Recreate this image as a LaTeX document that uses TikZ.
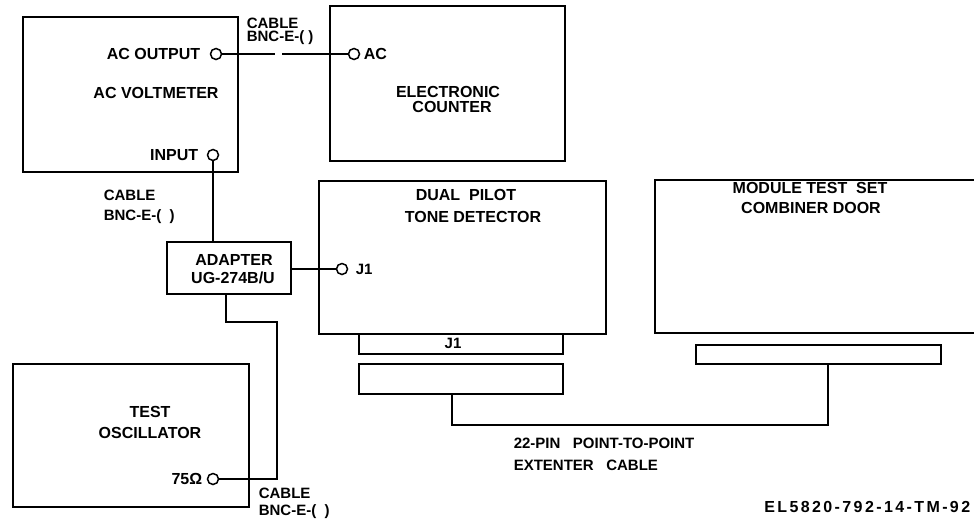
\documentclass[tikz,border=0pt]{standalone}
\usepackage{fontspec}
\setmainfont{Liberation Sans}
\begin{document}
\begin{tikzpicture}[x=1pt,y=-1pt,line width=1.6pt,
  box/.style={draw,rectangle,inner sep=0pt,anchor=north west},
  jack/.style={draw,circle,fill=white,minimum size=11pt,inner sep=0pt,line width=1.5pt},
  lbl/.style={inner sep=0pt,font=\fontsize{16}{18}\selectfont\bfseries,align=center},
  slbl/.style={inner sep=0pt,font=\fontsize{15}{17}\selectfont\bfseries,align=left}]
\useasboundingbox (0,0) rectangle (974,522);
% boxes
\node[box,minimum width=215pt,minimum height=155pt] (vm) at (22,16) {};
\node[box,minimum width=235pt,minimum height=155pt] (ec) at (329,5) {};
\node[box,minimum width=124pt,minimum height=52pt] (ad) at (166,241) {};
\node[box,minimum width=236pt,minimum height=143pt] (osc) at (12,363) {};
\node[box,minimum width=287pt,minimum height=153pt] (dp) at (318,180) {};
\node[box,minimum width=204pt,minimum height=20pt] (dpj) at (358,333) {};
\node[box,minimum width=204pt,minimum height=30pt] (plug1) at (358,363) {};
\node[box,minimum width=245pt,minimum height=19pt] (plug2) at (695,344) {};
\draw (974,180) -- (655,180) -- (655,333) -- (974,333);
% jacks
\node[jack] (acout) at (216,54) {};
\node[jack] (vin) at (213,155) {};
\node[jack] (acin) at (354,54) {};
\node[jack] (j1) at (342,269) {};
\node[jack] (o75) at (213,479) {};
% connectors
\coordinate (g1) at (275,54);
\coordinate (g2) at (282,54);
\draw (acout) -- (g1);
\draw (g2) -- (acin);
\draw (vin) -- (vin |- ad.north);
\draw (ad.east |- j1) -- (j1);
\coordinate (ab) at (226,293);
\draw (ab) -- (226,322) -- (277,322) -- (277,479) -- (o75);
\coordinate (p1) at (452,393);
\coordinate (p2) at (828,363);
\draw (p1) -- (452,425) -- (828,425) -- (p2);
% labels
\node[lbl,anchor=east] (t1) at (201,54) {AC OUTPUT};
\node[lbl] (t2) at (156,93) {AC VOLTMETER};
\node[lbl,anchor=east] (t3) at (199,155) {INPUT};
\node[slbl,anchor=west] (t4) at (246,23) {CABLE};
\node[slbl,anchor=west] (t5) at (246,38) {BNC-E-( )};
\node[lbl,anchor=west] (t6) at (363,54) {AC};
\node[lbl] (t7) at (448,92) {ELECTRONIC};
\node[lbl] (t8) at (452,107) {COUNTER};
\node[slbl,anchor=west] (t9) at (103,195) {CABLE};
\node[slbl,anchor=west] (t10) at (103,217) {BNC-E-(\ \ )};
\node[lbl] (t11) at (234,260) {ADAPTER};
\node[lbl] (t12) at (233,278) {UG-274B/U};
\node[slbl,anchor=west] (t13) at (355,269) {J1};
\node[lbl] (t14) at (150,412) {TEST};
\node[lbl] (t15) at (150,433) {OSCILLATOR};
\node[lbl,anchor=east] (t16) at (203,479) {75Ω};
\node[slbl,anchor=west] (t17) at (258,493) {CABLE};
\node[slbl,anchor=west] (t18) at (258,512) {BNC-E-(\ \ )};
\node[lbl] (t19) at (466,195) {DUAL\ \ PILOT};
\node[lbl] (t20) at (473,217) {TONE DETECTOR};
\node[slbl] (t21) at (453,343) {J1};
\node[lbl] (t22) at (810,188) {MODULE TEST\ \ SET};
\node[lbl] (t23) at (811,208) {COMBINER DOOR};
\node[slbl,anchor=west] (t24) at (513,443) {22-PIN\ \ \ POINT-TO-POINT};
\node[slbl,anchor=west] (t25) at (513,465) {EXTENTER\ \ \ CABLE};
\node[lbl,anchor=east,font=\fontsize{16}{18}\selectfont\bfseries\addfontfeature{LetterSpace=15}] (t26) at (971,507) {EL5820-792-14-TM-92};
\end{tikzpicture}
\end{document}
